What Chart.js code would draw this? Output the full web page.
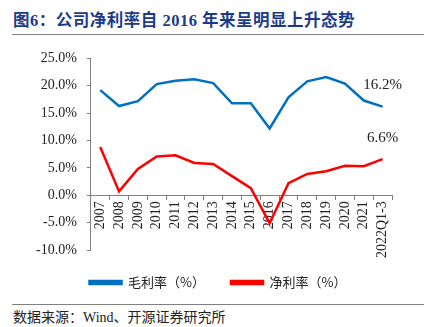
<!DOCTYPE html>
<html>
<head>
<meta charset="utf-8">
<script src="https://cdn.jsdelivr.net/npm/chart.js@4"></script>
<style>
  body { margin: 0; background: #fff; width: 434px; height: 327px; position: relative; overflow: hidden; }
  #title { position: absolute; left: 13px; top: 7px; font: bold 16.5px "Liberation Serif", "Noto Sans CJK SC", serif; color: #1b3a8a; letter-spacing: 0.5px; }
  .rule { position: absolute; left: 12px; width: 412px; height: 1px; background: #7f7f7f; }
  #source { position: absolute; left: 13px; top: 306px; font: 14px "Liberation Serif", "Noto Sans CJK SC", serif; color: #222; }
  #wrap { position: absolute; left: 0; top: 40px; width: 434px; height: 259px; }
</style>
</head>
<body>
<div id="title">图6：公司净利率自 2016 年来呈明显上升态势</div>
<div class="rule" style="top:34px"></div>
<div id="wrap"><canvas id="chart"></canvas></div>
<div class="rule" style="top:304px"></div>
<div id="source">数据来源：Wind、开源证券研究所</div>
<script>
const years = ['2007', '2008', '2009', '2010', '2011', '2012', '2013', '2014', '2015', '2016', '2017', '2018', '2019', '2020', '2021', '2022Q1-3'];
const grossMargin = [19.2, 16.3, 17.2, 20.3, 20.9, 21.2, 20.5, 16.8, 16.8, 12.2, 17.9, 20.8, 21.6, 20.4, 17.3, 16.2];
const netMargin = [8.8, 0.7, 4.8, 7.1, 7.3, 5.9, 5.7, 3.5, 1.3, -5.1, 2.2, 3.9, 4.4, 5.4, 5.3, 6.6];
const yTicks = [-10, -5, 0, 5, 10, 15, 20, 25];

const serif = '"Liberation Serif", "Times New Roman", serif';

// label the last point of each line
const lastValueLabels = {
  id: 'lastValueLabels',
  afterDatasetsDraw(chart) {
    const ctx = chart.ctx;
    ctx.save();
    ctx.font = '15px ' + serif;
    ctx.fillStyle = '#222';
    ctx.textAlign = 'center';
    ctx.textBaseline = 'bottom';
    chart.data.datasets.forEach((ds, i) => {
      const pts = chart.getDatasetMeta(i).data;
      const p = pts[pts.length - 1];
      const v = ds.data[ds.data.length - 1];
      ctx.fillText(v.toFixed(1) + '%', p.x, p.y - 14);
    });
    ctx.restore();
  }
};

// nudge the legend a bit to the right, like the original
const legendShift = {
  id: 'legendShift',
  afterUpdate(chart) {
    const lg = chart.legend;
    if (!lg) return;
    lg.left += 9;
    lg.right += 9;
    lg.adjustHitBoxes();
  }
};

new Chart(document.getElementById('chart'), {
  type: 'line',
  data: {
    labels: years,
    datasets: [
      {
        label: '毛利率（%）',
        data: grossMargin,
        borderColor: '#0070c0',
        backgroundColor: '#0070c0',
        borderWidth: 2.5,
        pointRadius: 0,
        tension: 0,
      },
      {
        label: '净利率（%）',
        data: netMargin,
        borderColor: '#ff0000',
        backgroundColor: '#ff0000',
        borderWidth: 2.5,
        pointRadius: 0,
        tension: 0,
      },
    ],
  },
  options: {
    responsive: true,
    maintainAspectRatio: false,
    animation: false,
    layout: { padding: { top: 1, right: 42, left: 26, bottom: 0 } },
    scales: {
      x: {
        position: { y: 0 },
        offset: true,
        grid: { display: true, drawOnChartArea: false, offset: true, tickLength: 4, color: '#808080' },
        border: { color: '#808080', width: 1 },
        ticks: { color: '#222', font: { family: serif, size: 14 }, maxRotation: 90, minRotation: 90, autoSkip: false, padding: 2 },
      },
      y: {
        min: -10,
        max: 25,
        afterBuildTicks: (axis) => { axis.ticks = yTicks.map((v) => ({ value: v })); },
        grid: { display: true, drawOnChartArea: false, tickLength: 4, color: '#808080' },
        border: { color: '#808080', width: 1 },
        ticks: { color: '#222', font: { family: serif, size: 14 }, padding: 10, callback: (v) => v.toFixed(1) + '%' },
      },
    },
    plugins: {
      legend: {
        position: 'bottom',
        labels: { boxWidth: 32, boxHeight: 3, padding: 26, color: '#222', font: { family: '"Noto Sans CJK SC", sans-serif', size: 13 } },
      },
      tooltip: { enabled: false },
    },
  },
  plugins: [lastValueLabels, legendShift],
});
</script>
</body>
</html>
